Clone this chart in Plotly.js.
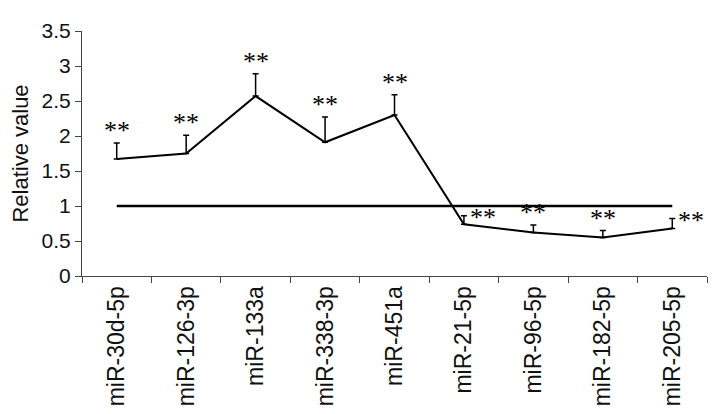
<!DOCTYPE html>
<html><head><meta charset="utf-8">
<script src="https://cdn.plot.ly/plotly-3.0.1.min.js"></script>
<style>body{margin:0;background:#fff}#chart{width:714px;height:414px}</style>
</head><body><div id="chart"></div>
<script>
const categories = ['miR-30d-5p','miR-126-3p','miR-133a','miR-338-3p','miR-451a','miR-21-5p','miR-96-5p','miR-182-5p','miR-205-5p'];
const values = [1.67, 1.75, 2.57, 1.91, 2.30, 0.74, 0.62, 0.55, 0.68];
const errors = [0.23, 0.26, 0.32, 0.36, 0.29, 0.12, 0.11, 0.10, 0.14];
const reference = [1, 1, 1, 1, 1, 1, 1, 1, 1];
const significance = ['**','**','**','**','**','**','**','**','**'];
const yTicks = [0, 0.5, 1, 1.5, 2, 2.5, 3, 3.5];

const traces = [
  {x: categories, y: reference, type: 'scatter', mode: 'lines',
   line: {color: '#000', width: 2.5}, hoverinfo: 'skip'},
  {x: categories, y: values, type: 'scatter', mode: 'lines',
   line: {color: '#000', width: 2},
   error_y: {type: 'data', array: errors, arrayminus: errors.map(() => 0),
             symmetric: false, color: '#000', thickness: 1.5, width: 3}}
];

const annotations = categories.map((c, i) => {
  const right = values[i] < 1 && (i === 5 || i === categories.length - 1);
  return {x: c, y: values[i] + errors[i], text: significance[i], showarrow: false,
          xanchor: 'center', yanchor: right ? 'middle' : 'bottom',
          xshift: right ? 19 : 0, yshift: right ? -2 : -4,
          font: {family: 'Liberation Serif', size: 26, color: '#000'}};
});

const layout = {
  width: 714, height: 414,
  margin: {l: 82, r: 7, t: 31, b: 138},
  paper_bgcolor: '#fff', plot_bgcolor: '#fff',
  showlegend: false,
  font: {family: 'Liberation Sans, Arial, sans-serif', color: '#111'},
  xaxis: {type: 'category', tickson: 'boundaries', ticks: 'outside', ticklen: 6,
          tickcolor: '#444', showline: true, linecolor: '#444', linewidth: 1,
          showgrid: false, zeroline: false, tickangle: -90,
          tickfont: {size: 23, color: '#111'}, range: [-0.5, 8.5]},
  yaxis: {range: [0, 3.5], tickvals: yTicks, ticktext: yTicks.map(String),
          ticks: 'outside', ticklen: 6, tickcolor: '#444', showline: true,
          linecolor: '#444', linewidth: 1, showgrid: false, zeroline: false,
          tickfont: {size: 21, color: '#111'},
          title: {text: 'Relative value', font: {size: 22, color: '#111'}, standoff: 6}},
  annotations: annotations
};

Plotly.newPlot('chart', traces, layout, {displayModeBar: false, staticPlot: true});
</script>
</body></html>
